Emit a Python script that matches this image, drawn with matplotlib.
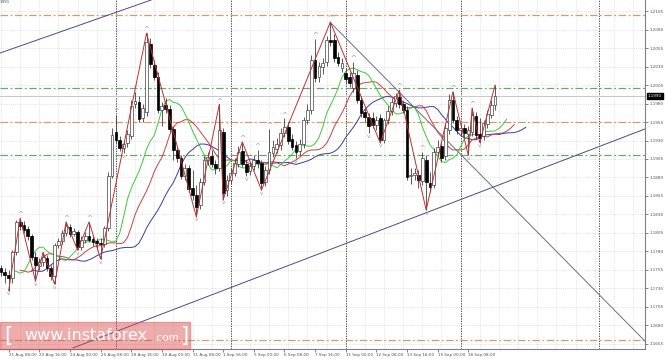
import numpy as np
import pandas as pd
import matplotlib
matplotlib.use("Agg")
import matplotlib.pyplot as plt
from matplotlib.patches import Rectangle
from matplotlib.transforms import blended_transform_factory

# EURUSD H4 candles, 21 Aug - 19 Sep
opens = [1.1758, 1.1752, 1.1748, 1.1744, 1.1779, 1.1820, 1.1816, 1.1810, 1.1801, 1.1772,
         1.1760, 1.1766, 1.1771, 1.1758, 1.1747, 1.1789, 1.1794, 1.1805, 1.1813, 1.1804,
         1.1806, 1.1786, 1.1796, 1.1801, 1.1797, 1.1794, 1.1792, 1.1790, 1.1812, 1.1882,
         1.1941, 1.1931, 1.1920, 1.1927, 1.1936, 1.1979, 1.1982, 1.1960, 1.1968, 1.2060,
         1.2032, 1.2016, 1.1971, 1.1978, 1.1973, 1.1946, 1.1917, 1.1906, 1.1882, 1.1893,
         1.1866, 1.1856, 1.1843, 1.1874, 1.1904, 1.1909, 1.1898, 1.1893, 1.1941, 1.1863,
         1.1877, 1.1886, 1.1898, 1.1916, 1.1898, 1.1889, 1.1895, 1.1904, 1.1900, 1.1874,
         1.1890, 1.1913, 1.1918, 1.1924, 1.1940, 1.1948, 1.1932, 1.1924, 1.1916, 1.1925,
         1.1958, 1.1971, 1.2039, 1.2016, 1.2029, 1.2036, 1.2066, 1.2066, 1.2043, 1.2028,
         1.2021, 1.2016, 1.2001, 1.2019, 1.1985, 1.1968, 1.1962, 1.1960, 1.1951, 1.1960,
         1.1931, 1.1958, 1.1970, 1.1981, 1.1989, 1.1979, 1.1971, 1.1882, 1.1883, 1.1883,
         1.1875, 1.1904, 1.1873, 1.1870, 1.1915, 1.1923, 1.1909, 1.1944, 1.1985, 1.1958,
         1.1944, 1.1947, 1.1939, 1.1941, 1.1963, 1.1939, 1.1936, 1.1952, 1.1965, 1.1978]
highs = [1.1762, 1.1758, 1.1755, 1.1782, 1.1823, 1.1825, 1.1821, 1.1814, 1.1804, 1.1779,
         1.1771, 1.1779, 1.1775, 1.1762, 1.1792, 1.1798, 1.1809, 1.1820, 1.1817, 1.1812,
         1.1809, 1.1801, 1.1806, 1.1820, 1.1802, 1.1798, 1.1798, 1.1814, 1.1887, 1.1947,
         1.1965, 1.1936, 1.1929, 1.1944, 1.1985, 1.1996, 1.1990, 1.1979, 1.2075, 1.2069,
         1.2039, 1.2023, 1.1982, 1.1987, 1.1978, 1.1950, 1.1923, 1.1910, 1.1898, 1.1897,
         1.1890, 1.1870, 1.1879, 1.1909, 1.1915, 1.1917, 1.1904, 1.1979, 1.1947, 1.1883,
         1.1893, 1.1906, 1.1923, 1.1928, 1.1904, 1.1901, 1.1910, 1.1917, 1.1904, 1.1895,
         1.1946, 1.1931, 1.1933, 1.1947, 1.1960, 1.1955, 1.1939, 1.1929, 1.1932, 1.1962,
         1.1979, 1.2046, 1.2067, 1.2036, 1.2041, 1.2071, 1.2090, 1.2074, 1.2050, 1.2041,
         1.2028, 1.2023, 1.2036, 1.2025, 1.1990, 1.1974, 1.1967, 1.1968, 1.1963, 1.1966,
         1.1960, 1.1977, 1.1987, 1.1994, 1.1998, 1.1985, 1.1977, 1.1893, 1.1893, 1.1890,
         1.1915, 1.1910, 1.1887, 1.1920, 1.1931, 1.1928, 1.1952, 1.1993, 1.1996, 1.1963,
         1.1952, 1.1952, 1.1950, 1.1974, 1.1968, 1.1960, 1.1958, 1.1971, 1.1985, 1.2005]
lows = [1.1747, 1.1738, 1.1727, 1.1738, 1.1775, 1.1809, 1.1805, 1.1796, 1.1768, 1.1740,
        1.1755, 1.1760, 1.1754, 1.1741, 1.1736, 1.1785, 1.1790, 1.1801, 1.1800, 1.1801,
        1.1782, 1.1782, 1.1792, 1.1793, 1.1787, 1.1782, 1.1770, 1.1786, 1.1808, 1.1879,
        1.1927, 1.1916, 1.1913, 1.1921, 1.1932, 1.1974, 1.1955, 1.1955, 1.1963, 1.2028,
        1.2012, 1.1967, 1.1950, 1.1967, 1.1941, 1.1904, 1.1901, 1.1878, 1.1877, 1.1860,
        1.1850, 1.1827, 1.1837, 1.1870, 1.1897, 1.1894, 1.1885, 1.1889, 1.1850, 1.1855,
        1.1871, 1.1882, 1.1894, 1.1894, 1.1882, 1.1883, 1.1890, 1.1893, 1.1863, 1.1869,
        1.1885, 1.1908, 1.1913, 1.1917, 1.1935, 1.1925, 1.1917, 1.1906, 1.1909, 1.1920,
        1.1952, 1.1966, 1.2009, 1.2009, 1.2020, 1.2031, 1.2058, 1.2036, 1.2031, 1.2023,
        1.2008, 1.2002, 1.1996, 1.1981, 1.1962, 1.1955, 1.1940, 1.1947, 1.1944, 1.1927,
        1.1927, 1.1952, 1.1965, 1.1975, 1.1974, 1.1967, 1.1877, 1.1871, 1.1877, 1.1866,
        1.1870, 1.1836, 1.1860, 1.1866, 1.1909, 1.1901, 1.1904, 1.1939, 1.1954, 1.1939,
        1.1936, 1.1933, 1.1910, 1.1936, 1.1932, 1.1927, 1.1931, 1.1947, 1.1960, 1.1971]
closes = [1.1752, 1.1748, 1.1744, 1.1779, 1.1820, 1.1814, 1.1809, 1.1801, 1.1772, 1.1762,
          1.1766, 1.1772, 1.1758, 1.1747, 1.1789, 1.1794, 1.1805, 1.1814, 1.1804, 1.1808,
          1.1786, 1.1796, 1.1801, 1.1796, 1.1793, 1.1792, 1.1790, 1.1812, 1.1882, 1.1937,
          1.1931, 1.1920, 1.1925, 1.1939, 1.1977, 1.1983, 1.1959, 1.1974, 1.2063, 1.2033,
          1.2016, 1.1971, 1.1977, 1.1973, 1.1946, 1.1917, 1.1906, 1.1882, 1.1893, 1.1865,
          1.1856, 1.1840, 1.1874, 1.1904, 1.1908, 1.1898, 1.1893, 1.1944, 1.1859, 1.1877,
          1.1886, 1.1900, 1.1915, 1.1898, 1.1887, 1.1895, 1.1904, 1.1900, 1.1873, 1.1890,
          1.1915, 1.1921, 1.1925, 1.1940, 1.1948, 1.1929, 1.1921, 1.1915, 1.1925, 1.1958,
          1.1971, 1.2039, 1.2014, 1.2031, 1.2035, 1.2066, 1.2063, 1.2041, 1.2035, 1.2035,
          1.2013, 1.2008, 1.2021, 1.1985, 1.1967, 1.1962, 1.1950, 1.1951, 1.1958, 1.1931,
          1.1958, 1.1970, 1.1982, 1.1990, 1.1979, 1.1971, 1.1881, 1.1883, 1.1886, 1.1877,
          1.1906, 1.1874, 1.1867, 1.1915, 1.1921, 1.1906, 1.1947, 1.1985, 1.1958, 1.1944,
          1.1947, 1.1940, 1.1944, 1.1965, 1.1937, 1.1933, 1.1954, 1.1966, 1.1978, 1.1990]

date_ticks = [2, 10, 18, 26, 34, 42, 50, 58, 66, 74, 82, 90, 98, 106, 114, 122]
date_labels = ["21 Aug 08:00", "22 Aug 16:00", "24 Aug 00:00", "25 Aug 08:00",
               "28 Aug 16:00", "30 Aug 00:00", "31 Aug 08:00", "1 Sep 16:00",
               "5 Sep 00:00", "6 Sep 08:00", "7 Sep 16:00", "11 Sep 00:00",
               "12 Sep 08:00", "13 Sep 16:00", "15 Sep 00:00", "18 Sep 08:00"]

price_ticks = [1.1655, 1.1680, 1.1705, 1.1730, 1.1755, 1.1780, 1.1805, 1.1830, 1.1855,
               1.1880, 1.1905, 1.1930, 1.1955, 1.1980, 1.2005, 1.2030, 1.2055, 1.2080, 1.2105]

# zigzag turning points: bar index, H = high, L = low
zigzag_bars = [2, 5, 9, 11, 14, 17, 20, 23, 26, 38, 51, 57, 58, 63, 68, 86,
               99, 104, 111, 118, 122, 123, 125, 129]
zigzag_kind = ["L", "H", "L", "H", "L", "H", "L", "H", "L", "H", "L", "H", "L", "H", "L", "H",
               "L", "H", "L", "H", "L", "H", "L", "H"]

level_prices = [1.2100, 1.2001, 1.1955, 1.1910, 1.1660]
level_colors = ["#e0956a", "#6aa86a", "#e0956a", "#6aa86a", "#e0956a"]
last_price = 1.1990

separator_bars = [30, 60, 90, 120, 156]

# trend lines: (bar, price) end points
channel_top = ([-0.26, 39.2], [1.20482, 1.21199])
channel_bottom = ([18.8, 168.1], [1.16496, 1.19455])
down_line = ([85.9, 168.1], [1.2090, 1.16591])

df = pd.DataFrame({"open": opens, "high": highs, "low": lows, "close": closes})
n = len(df)
idx = np.arange(n)

fig = plt.figure(figsize=(6.65, 3.59), dpi=100)
ax = fig.add_axes([0, 10 / 359, 645 / 665, 349 / 359])
ax.set_xlim(-0.26, 168.14)
ax.set_ylim(1.16482, 1.21199)

# grid
for b in range(0, 170, 5):
    ax.axvline(b, color="#d8d8d8", lw=0.5, ls=(0, (1.5, 1.5)), zorder=0)
for p in price_ticks:
    ax.axhline(p, color="#d8d8d8", lw=0.5, ls=(0, (1.5, 1.5)), zorder=0)
for b in separator_bars:
    ax.axvline(b, color="#303030", lw=0.6, ls=(0, (1.5, 1.5)), zorder=1)

# horizontal levels
for p, col in zip(level_prices, level_colors):
    ax.axhline(p, color=col, lw=0.9, ls=(0, (6, 2, 1.5, 2)), zorder=1)
ax.axhline(last_price, color="#c8c8c8", lw=0.7, zorder=1)

# trend lines
ax.plot(*channel_top, color="#4b4b86", lw=0.7, zorder=2)
ax.plot(*channel_bottom, color="#4b4b86", lw=0.7, zorder=2)
ax.plot(*down_line, color="#6c6c8c", lw=0.7, zorder=2)

# alligator on median price
median = (df["high"] + df["low"]) / 2
jaw = median.ewm(alpha=1 / 13, adjust=False).mean()
teeth = median.ewm(alpha=1 / 8, adjust=False).mean()
lips = median.ewm(alpha=1 / 5, adjust=False).mean()
ax.plot(idx + 8, jaw, color="#3a3aa8", lw=0.7, zorder=3)
ax.plot(idx + 5, teeth, color="#cc4040", lw=0.7, zorder=3)
ax.plot(idx + 3, lips, color="#3cc83c", lw=0.7, zorder=3)

# candles
up = df["close"] >= df["open"]
ax.vlines(idx, df["low"], df["high"], color="#404040", lw=0.6, zorder=4)
body_lo = np.minimum(df["open"], df["close"])
body_h = np.maximum((df["close"] - df["open"]).abs(), 0.00005)
ax.bar(idx[up], body_h[up], bottom=body_lo[up], width=0.72, color="white",
       edgecolor="#404040", linewidth=0.5, zorder=5)
ax.bar(idx[~up], body_h[~up], bottom=body_lo[~up], width=0.72, color="black",
       edgecolor="black", linewidth=0.5, zorder=5)

# zigzag
zz_y = [highs[b] if k == "H" else lows[b] for b, k in zip(zigzag_bars, zigzag_kind)]
ax.plot(zigzag_bars, zz_y, color="#b83232", lw=0.7, zorder=6)

# fractals
for i in range(2, n - 2):
    if highs[i] > max(highs[i - 2:i]) and highs[i] >= max(highs[i + 1:i + 3]):
        ax.text(i, highs[i] + 0.0001, "^", fontsize=5, color="#9a9a9a",
                ha="center", va="bottom", zorder=7)
    if lows[i] < min(lows[i - 2:i]) and lows[i] <= min(lows[i + 1:i + 3]):
        ax.text(i, lows[i] - 0.0001, "v", fontsize=4.2, color="#9a9a9a",
                ha="center", va="top", zorder=7)

# axes styling
for s in ["top", "left"]:
    ax.spines[s].set_visible(False)
for s in ["right", "bottom"]:
    ax.spines[s].set_color("#808080")
    ax.spines[s].set_linewidth(0.8)
ax.yaxis.tick_right()
ax.set_yticks(price_ticks)
ax.set_yticklabels([f"{p:.4f}" for p in price_ticks])
ax.tick_params(axis="y", labelsize=3.0, length=2, width=0.5, pad=1, colors="#505050")
ax.set_xticks(date_ticks)
ax.set_xticklabels(date_labels)
ax.tick_params(axis="x", labelsize=3.0, length=2, width=0.5, pad=1, colors="#505050")
for lbl in ax.get_xticklabels():
    lbl.set_ha("left")

tr = blended_transform_factory(ax.transAxes, ax.transData)
ax.text(1.004, last_price, f"{last_price:.4f}", transform=tr, fontsize=3.0, color="white",
        va="center", ha="left",
        bbox=dict(boxstyle="square,pad=0.25", fc="black", ec="black"))
ax.text(0.0, 1.0, "1991", transform=ax.transAxes, fontsize=3.0, color="#505050",
        va="top", ha="left")

# watermark
fig.patches.append(Rectangle((0, 10 / 359), 190 / 665, 27 / 359, transform=fig.transFigure,
                             color="#d94a4a", alpha=0.45, zorder=10))
wy = 23 / 359
fig.text(0.006, wy, "[", fontsize=15, color="white", va="center", zorder=11)
fig.text(0.036, wy, "www.instaforex", fontsize=11.5, color="white", va="center", zorder=11)
fig.text(0.231, wy - 0.006, ".com", fontsize=7.5, color="white", va="center", zorder=11)
fig.text(0.272, wy, "]", fontsize=15, color="white", va="center", zorder=11)

fig.savefig("out.png", dpi=100)
